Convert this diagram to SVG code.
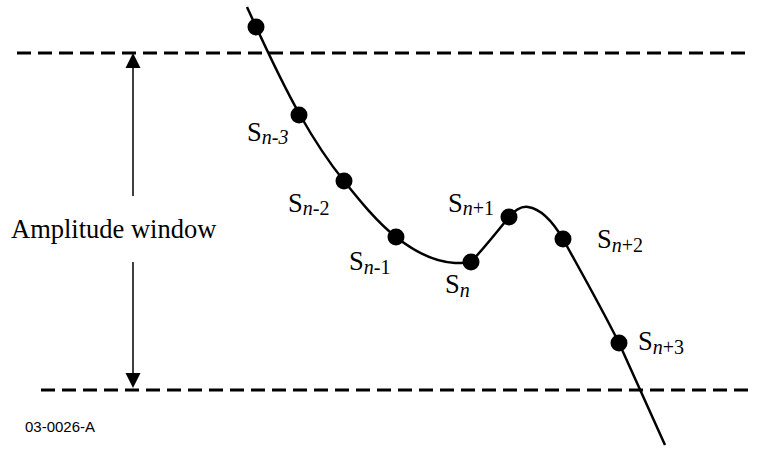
<svg xmlns="http://www.w3.org/2000/svg" width="757" height="455" viewBox="0 0 757 455">
<style>
.dash{stroke:#000;stroke-width:3;stroke-dasharray:14 7;fill:none}
.curve{stroke:#000;stroke-width:2.5;fill:none}
.dot{fill:#000}
.lbl{font-family:"Liberation Serif","Times New Roman",serif;font-size:26.5px;fill:#000}
.sub{font-size:20px}
.it{font-style:italic}
.code{font-family:"Liberation Sans",Arial,sans-serif;font-size:15px;fill:#000}
</style>
<rect width="757" height="455" fill="#fff"/>
<g id="connectors">
<line class="dash" x1="17" y1="53" x2="750" y2="53"/>
<line class="dash" x1="41" y1="390" x2="750" y2="390"/>
<line x1="133" y1="66" x2="133" y2="196" stroke="#000" stroke-width="1.5"/>
<line x1="133" y1="262" x2="133" y2="376" stroke="#000" stroke-width="1.5"/>
<polygon points="133,53 125.5,68 140.5,68" fill="#000"/>
<polygon points="133,388 125.5,373 140.5,373" fill="#000"/>
<path class="curve" d="M247,7 C262,40 280,80 300,115 C313,138 327,160 344,181 C360,201 377,222 396,237 C415,252 435,262 455,263 C462,263 467,263 471,262 C484,248 497,232 509,217 C515,210 521,206 528,207 C542,209 553,222 563,239 C580,270 600,305 619,343 L665,445"/>
</g>
<g id="samples">
<circle class="dot" cx="256" cy="27" r="8.5"/>
<circle class="dot" cx="299" cy="115" r="8.5"/>
<circle class="dot" cx="344" cy="181" r="8.5"/>
<circle class="dot" cx="396" cy="237" r="8.5"/>
<circle class="dot" cx="471" cy="262" r="8.5"/>
<circle class="dot" cx="509" cy="217" r="8.5"/>
<circle class="dot" cx="563" cy="239" r="8.5"/>
<circle class="dot" cx="619" cy="343" r="8.5"/>
</g>
<g id="labels">
<text class="lbl" x="247" y="141">S<tspan class="sub it" dy="3">n-3</tspan></text>
<text class="lbl" x="288" y="212">S<tspan class="sub it" dy="3">n</tspan><tspan class="sub">-2</tspan></text>
<text class="lbl" x="349" y="270">S<tspan class="sub it" dy="4">n</tspan><tspan class="sub">-1</tspan></text>
<text class="lbl" x="445" y="293">S<tspan class="sub it" dy="4">n</tspan></text>
<text class="lbl" x="448" y="212">S<tspan class="sub it" dy="3">n</tspan><tspan class="sub">+1</tspan></text>
<text class="lbl" x="597" y="248">S<tspan class="sub it" dy="4">n</tspan><tspan class="sub">+2</tspan></text>
<text class="lbl" x="638" y="350">S<tspan class="sub it" dy="4">n</tspan><tspan class="sub">+3</tspan></text>
<text class="lbl" x="11" y="238">Amplitude window</text>
<text class="code" x="25" y="432">03-0026-A</text>
</g>
</svg>
